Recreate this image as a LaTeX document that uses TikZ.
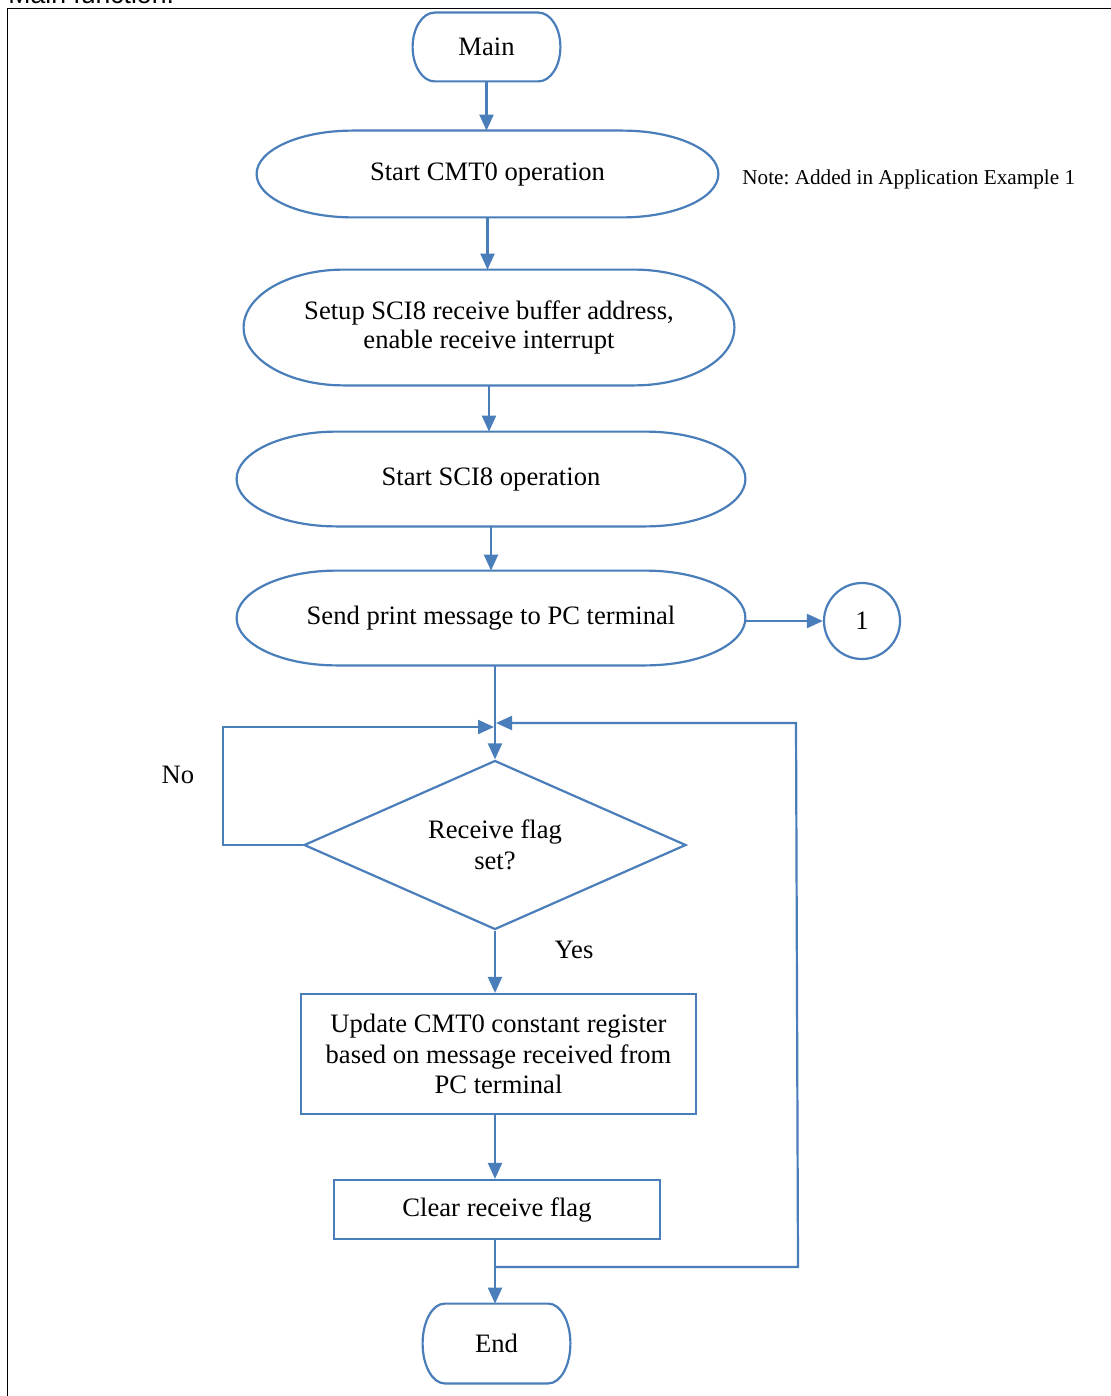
\documentclass[tikz,border=0pt]{standalone}
\usepackage{fontspec}
\setmainfont{Liberation Serif}
\newfontfamily\titlefont{Liberation Sans}
\usetikzlibrary{arrows.meta,shapes.geometric,calc}
\definecolor{flowblue}{RGB}{74,126,187}
\frenchspacing

% Terminal/process capsule: flat top and bottom, half-elliptic ends.
% #1 node name, #2 horizontal radius of the ends
\newcommand\capsule[2]{%
  \draw[flowline] let \p1=(#1.north), \p2=(#1.south), \n1={0.5*(\y1-\y2)} in
    ([xshift=#2]#1.north west) -- ([xshift=-#2]#1.north east)
    arc[start angle=90,end angle=-90,x radius=#2,y radius={\n1*1pt}]
    -- ([xshift=#2]#1.south west)
    arc[start angle=270,end angle=90,x radius=#2,y radius={\n1*1pt}] -- cycle;}

\tikzset{
  flowline/.style={draw=flowblue, line width=1.1pt},
  arr/.style={flowline, -{Triangle[length=8pt,width=7pt]}},
  txt/.style={inner sep=0pt, align=center, font=\fontsize{13.3}{15.4}\selectfont},
  boxnode/.style={txt, draw=flowblue, line width=1.1pt},
}

\begin{document}
\begin{tikzpicture}[x=0.5pt,y=-0.5pt]
  \useasboundingbox (0,0) rectangle (1110,1396);
  \fill[white] (0,0) rectangle (1110,1396);

  % caption and frame
  \node[anchor=base west, inner sep=0pt, font=\titlefont\fontsize{13.3}{15}\selectfont] (title) at (8,4) {Main function.};
  \draw[black, line width=0.8pt] (7.5,1420) -- (7.5,8.5) -- (1130,8.5);

  % capsule nodes
  \node[txt, minimum width=73.5pt, minimum height=34pt, text depth=-1.5pt] (main) at (486.5,47) {Main};
  \capsule{main}{11pt}
  \node[txt, minimum width=230.5pt, minimum height=43pt] (cmt) at (487.5,174) {Start CMT0 operation};
  \capsule{cmt}{48pt}
  \node[txt, minimum width=245pt, minimum height=57.5pt] (setup) at (489,327.5)
    {\raisebox{-2.5pt}{\shortstack{Setup SCI8 receive buffer address,\\[-0.2pt]enable receive interrupt}}};
  \capsule{setup}{50pt}
  \node[txt, minimum width=254pt, minimum height=47pt] (sci) at (491,479) {\raisebox{1.5pt}{Start SCI8 operation}};
  \capsule{sci}{50pt}
  \node[txt, minimum width=254pt, minimum height=47pt] (send) at (491,618) {\raisebox{1.5pt}{Send print message to PC terminal}};
  \capsule{send}{50pt}
  \node[txt, minimum width=73.5pt, minimum height=39.5pt] (end) at (496.5,1343.5) {End};
  \capsule{end}{11pt}

  % note
  \node[anchor=west, inner sep=0pt, font=\fontsize{10.6}{12}\selectfont] (note) at (742,179)
    {Note: Added in Application Example 1};

  % connector circle
  \node[txt, circle, draw=flowblue, line width=1.1pt, minimum size=38pt] (con) at (862,621) {1};

  % decision
  \node[txt, diamond, aspect=2.26, draw=flowblue, line width=1.1pt,
        minimum width=191pt, minimum height=84.5pt] (dia) at (495,845) {Receive flag\\set?};

  % process boxes
  \node[boxnode, minimum width=197.5pt, minimum height=60pt] (update) at (498.5,1054)
    {Update CMT0 constant register\\based on message received from\\PC terminal};
  \node[boxnode, minimum width=163pt, minimum height=29.5pt] (clear) at (497,1209.5) {Clear receive flag};

  % labels
  \node[txt] (no) at (178,775) {No};
  \node[txt] (yes) at (574,950) {Yes};

  % loop coordinates
  \coordinate (lj) at (494,727);
  \coordinate (lc) at (223,727);
  \coordinate (rj) at (496,723);
  \coordinate (rt) at (796,723);
  \coordinate (rb) at (798,1267);
  \coordinate (bj) at (495,1267);

  % connectors
  \draw[arr] (main.south) -- (main.south |- cmt.north);
  \draw[arr] (cmt.south) -- (cmt.south |- setup.north);
  \draw[arr] (setup.south) -- (setup.south |- sci.north);
  \draw[arr] (sci.south) -- (send.north);
  \draw[arr] (con.west -| send.east) -- (con.west);
  \draw[arr] (dia.north |- send.south) -- (dia.north);
  \draw[arr] (dia.west) -| (lc) -- (lj);
  \draw[arr] (bj) -- (rb) -- (rt) -- (rj);
  \draw[arr] (dia.south) -- (dia.south |- update.north);
  \draw[arr] (dia.south |- update.south) -- (dia.south |- clear.north);
  \draw[arr] (dia.south |- clear.south) -- (dia.south |- end.north);
\end{tikzpicture}
\end{document}
